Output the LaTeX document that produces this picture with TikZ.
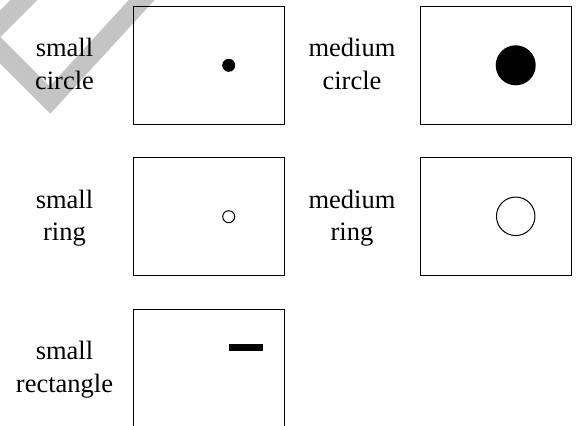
\documentclass[tikz,border=0pt]{standalone}
\usepackage{fontspec}
\setmainfont{Liberation Serif}
\definecolor{bandgray}{RGB}{196,196,196}
\begin{document}
\begin{tikzpicture}[x=1pt,y=-1pt,
  panel/.style={draw=black, line width=0.9pt, minimum width=151pt, minimum height=118pt, inner sep=0pt, outer sep=0pt},
  caption/.style={align=center, font=\fontsize{26.5}{32.5}\selectfont, inner sep=0pt},
  dot/.style={circle, fill=black, inner sep=0pt},
  ring/.style={circle, draw=black, line width=1pt, inner sep=0pt},
  bar/.style={fill=black, inner sep=0pt, outer sep=0pt, minimum width=34pt, minimum height=7pt},
  band/.style={draw=bandgray, line width=19pt, line join=miter}]
\useasboundingbox (0,0) rectangle (577,425);
\begin{scope}
\clip (0,0) rectangle (577,425);
% gray band
\coordinate (b1) at (44,-20);
\coordinate (b2) at (-13,37);
\coordinate (b3) at (50,100);
\coordinate (b4) at (160,-20);
\draw[band] (b1) -- (b2) -- (b3) -- (b4);
% panels
\node[panel] (p1) at (208.5,65) {};
\node[panel] (p2) at (495.5,65) {};
\node[panel] (p3) at (208.5,216.5) {};
\node[panel] (p4) at (495.5,216.5) {};
\node[panel] (p5) at (208.5,368) {};
% labels
\node[caption] (l1) at (64.5,66.5) {\strut small\\circle\strut};
\node[caption] (l2) at (352,66.5) {\strut medium\\circle\strut};
\node[caption] (l3) at (64.5,218) {\strut small\\ring\strut};
\node[caption] (l4) at (352,218) {\strut medium\\ring\strut};
\node[caption] (l5) at (64.5,369.5) {\strut small\\rectangle\strut};
% contents
\node[dot, minimum size=13pt] (d1) at (228.7,65.3) {};
\node[dot, minimum size=40pt] (d2) at (515.7,65.3) {};
\node[ring, minimum size=12pt] (r1) at (228.7,216.7) {};
\node[ring, minimum size=38.5pt] (r2) at (515.7,216.3) {};
\node[bar] (s1) at (246,347.5) {};
\end{scope}
\end{tikzpicture}
\end{document}
